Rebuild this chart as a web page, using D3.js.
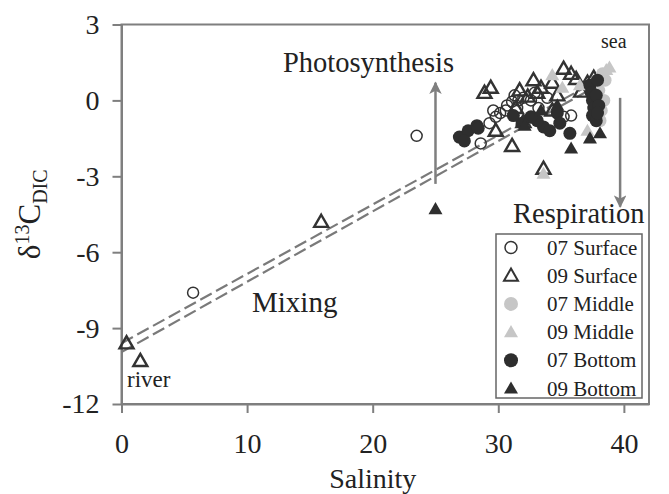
<!DOCTYPE html>
<html>
<head>
<meta charset="utf-8">
<script src="https://cdn.jsdelivr.net/npm/d3@7"></script>
<style>
  body { margin: 0; background: #fff; }
  svg text { font-family: "Liberation Serif", "Tinos", "Times New Roman", "DejaVu Serif", serif; }
</style>
</head>
<body>
<div id="chart"></div>
<script>
// axis ticks (x axis runs to 42, labelled every 10)
const xTicks = [0, 10, 20, 30, 40];
const yTicks = [-12, -9, -6, -3, 0, 3];

// series values: [salinity, d13C]
const surface07 = [[5.7, -7.6], [23.5, -1.4], [28.6, -1.7], [29.6, -0.4], [29.8, -0.65], [30.15, -0.5],
  [30.6, -0.4], [30.7, -0.2], [31.1, -0.05], [31.6, 0.0], [32.0, 0.1], [32.6, 0.0], [33.2, -0.3],
  [35.2, -0.65], [35.8, -0.6], [31.5, -0.3], [33.9, 0.1], [31.3, 0.2], [32.9, 0.3], [29.3, -0.9]];
const surface09 = [[0.4, -9.6], [1.5, -10.3], [15.9, -4.8], [28.9, 0.3], [29.4, 0.5], [29.8, -1.2],
  [31.1, -1.8], [33.6, -2.7], [32.8, 0.8], [33.1, 0.3], [32.35, 0.15], [34.3, 0.7], [35.2, 1.25],
  [35.8, 1.05], [36.2, 0.85], [37.1, 0.7], [34.3, -0.4], [36.6, 0.35], [32.0, -0.85], [31.4, -0.3],
  [33.4, 0.5], [34.7, 0.2], [37.6, 0.9], [31.7, 0.4]];
const middle07 = [[38.1, -0.8], [38.3, 1.05], [38.0, 0.4], [38.4, 0.0], [38.2, -0.4], [37.7, 0.7], [38.5, 0.8]];
const middle09 = [[34.3, 1.0], [38.6, 1.2], [38.85, 1.3], [37.1, -1.2], [33.6, -2.9], [36.5, 0.6], [37.8, 0.5], [35.1, 0.5]];
const bottom07 = [[26.9, -1.45], [27.6, -1.2], [28.3, -1.0], [28.4, -1.1], [27.3, -1.6], [33.6, -1.05],
  [34.1, -1.2], [35.7, -1.3], [33.1, -0.8], [32.6, -0.65], [37.3, 0.6], [37.4, 0.3], [37.5, 0.0],
  [37.6, -0.3], [37.5, -0.6], [37.8, -0.8], [37.9, 0.8], [37.8, 0.2], [38.0, -0.2], [37.9, -0.5],
  [34.7, -0.5], [34.9, -0.9], [31.9, -0.9], [31.2, -0.6]];
const bottom09 = [[25.0, -4.3], [35.8, -1.9], [37.3, -1.5], [32.1, -1.0], [38.1, -1.3], [34.7, -0.2], [33.4, -0.4]];

// mixing lines (two end-member lines)
const mixingUpper = [[0, -9.6], [38.3, 0.9]];
const mixingLower = [[0, -9.95], [38.3, 0.7]];

// process arrows: [from, to]
const photoArrow = [[25.0, -3.3], [25.0, 0.7]];
const respArrow = [[39.7, 0.1], [39.7, -4.2]];

const series = [
  { name: "07 Surface", data: surface07, shape: "circle", fill: "none", stroke: "#333" },
  { name: "09 Surface", data: surface09, shape: "triangle", fill: "none", stroke: "#333" },
  { name: "07 Middle", data: middle07, shape: "circle", fill: "#c6c6c6", stroke: "none" },
  { name: "09 Middle", data: middle09, shape: "triangle", fill: "#c6c6c6", stroke: "none" },
  { name: "07 Bottom", data: bottom07, shape: "circle", fill: "#2e2e2e", stroke: "none" },
  { name: "09 Bottom", data: bottom09, shape: "triangle", fill: "#2e2e2e", stroke: "none" }
];

const serif = "'Liberation Serif', 'Tinos', 'Times New Roman', 'DejaVu Serif', serif";
const width = 669, height = 494;
const margin = { top: 24.5, right: 20, bottom: 90, left: 121.5 };

const svg = d3.select("#chart").append("svg")
  .attr("width", width)
  .attr("height", height)
  .attr("font-family", serif);

const x = d3.scaleLinear().domain([0, 42]).range([margin.left, width - margin.right]);
const y = d3.scaleLinear().domain([-12, 3]).range([height - margin.bottom, margin.top]);

const axisColor = "#7f7f7f";

// frame
svg.append("rect")
  .attr("x", x(0)).attr("y", y(3))
  .attr("width", x(42) - x(0)).attr("height", y(-12) - y(3))
  .attr("fill", "none").attr("stroke", axisColor).attr("stroke-width", 2);

const xAxis = svg.append("g")
  .attr("transform", `translate(0, ${y(-12)})`)
  .call(d3.axisBottom(x).tickValues(xTicks).tickSize(9).tickSizeOuter(0).tickPadding(20).tickFormat(d => String(d)));
const yAxis = svg.append("g")
  .attr("transform", `translate(${x(0)}, 0)`)
  .call(d3.axisLeft(y).tickValues(yTicks).tickSize(9).tickSizeOuter(0).tickPadding(13).tickFormat(d => String(d)));

[xAxis, yAxis].forEach(g => {
  g.attr("font-family", serif).attr("font-size", 28);
  g.select(".domain").attr("stroke", axisColor).attr("stroke-width", 2);
  g.selectAll(".tick line").attr("stroke", axisColor).attr("stroke-width", 2);
  g.selectAll(".tick text").attr("fill", "#222");
});

// axis titles
svg.append("text")
  .attr("x", x(20)).attr("y", 488)
  .attr("text-anchor", "middle")
  .attr("fill", "#222")
  .attr("font-size", 28)
  .text("Salinity");

const yt = svg.append("text")
  .attr("transform", `translate(40, ${y(-4.5)}) rotate(-90)`)
  .attr("text-anchor", "middle")
  .attr("fill", "#222")
  .attr("font-size", 31);
yt.append("tspan").text("δ");
yt.append("tspan").attr("dy", -11).attr("font-size", 20).text("13");
yt.append("tspan").attr("dy", 11).text("C");
yt.append("tspan").attr("dy", 7).attr("font-size", 20).text("DIC");

// mixing lines
const line = d3.line().x(d => x(d[0])).y(d => y(d[1]));
[mixingUpper, mixingLower].forEach(d => {
  svg.append("path")
    .attr("d", line(d))
    .attr("fill", "none")
    .attr("stroke", "#7a7a7a")
    .attr("stroke-width", 2.2)
    .attr("stroke-dasharray", "13,5");
});

// arrow marker
svg.append("defs").append("marker")
  .attr("id", "arrow")
  .attr("viewBox", "0 0 10 10")
  .attr("refX", 9).attr("refY", 5)
  .attr("markerWidth", 5).attr("markerHeight", 5)
  .attr("markerUnits", "strokeWidth")
  .attr("orient", "auto")
  .append("path")
  .attr("d", "M0,0 L10,5 L0,10 L2.5,5 Z")
  .attr("fill", axisColor);

[photoArrow, respArrow].forEach(d => {
  svg.append("path")
    .attr("d", line(d))
    .attr("stroke", axisColor)
    .attr("stroke-width", 2.5)
    .attr("marker-end", "url(#arrow)");
});

// points
const triPath = d3.symbol().type(d3.symbolTriangle).size(85);
series.forEach(s => {
  const g = svg.append("g");
  if (s.shape === "circle") {
    g.selectAll("circle").data(s.data).enter().append("circle")
      .attr("cx", d => x(d[0])).attr("cy", d => y(d[1]))
      .attr("r", s.fill === "none" ? 5.5 : 6.5)
      .attr("fill", s.fill === "none" ? "none" : s.fill)
      .attr("stroke", s.stroke).attr("stroke-width", 1.5);
  } else {
    g.selectAll("path").data(s.data).enter().append("path")
      .attr("transform", d => `translate(${x(d[0])}, ${y(d[1]) + 1})`)
      .attr("d", triPath)
      .attr("fill", s.fill)
      .attr("stroke", s.stroke).attr("stroke-width", 2.4);
  }
});

// annotations
const ann = [
  { t: "Photosynthesis", x: 283, y: 72, size: 28.5 },
  { t: "Respiration", x: 513, y: 223, size: 28.5 },
  { t: "Mixing", x: 252, y: 312, size: 29 },
  { t: "river", x: 127, y: 387, size: 23 },
  { t: "sea", x: 601, y: 48, size: 20 }
];
svg.selectAll(".ann").data(ann).enter().append("text")
  .attr("class", "ann")
  .attr("x", d => d.x).attr("y", d => d.y)
  .attr("fill", "#222")
  .attr("font-size", d => d.size)
  .text(d => d.t);

// legend
const lg = svg.append("g").attr("transform", "translate(496, 234)");
lg.append("rect")
  .attr("width", 146).attr("height", 164)
  .attr("fill", "#fff").attr("stroke", "#666").attr("stroke-width", 1.5);
const rowH = 28.2;
series.forEach((s, i) => {
  const cy = 13.5 + i * rowH;
  if (s.shape === "circle") {
    lg.append("circle").attr("cx", 15).attr("cy", cy).attr("r", s.fill === "none" ? 6 : 7)
      .attr("fill", s.fill === "none" ? "none" : s.fill)
      .attr("stroke", s.stroke).attr("stroke-width", 1.5);
  } else {
    lg.append("path").attr("transform", `translate(15, ${cy + 1})`)
      .attr("d", triPath)
      .attr("fill", s.fill).attr("stroke", s.stroke).attr("stroke-width", 2);
  }
  lg.append("text")
    .attr("x", 51).attr("y", cy + 7)
    .attr("fill", "#222")
    .attr("font-size", 21)
    .text(s.name);
});
</script>
</body>
</html>
